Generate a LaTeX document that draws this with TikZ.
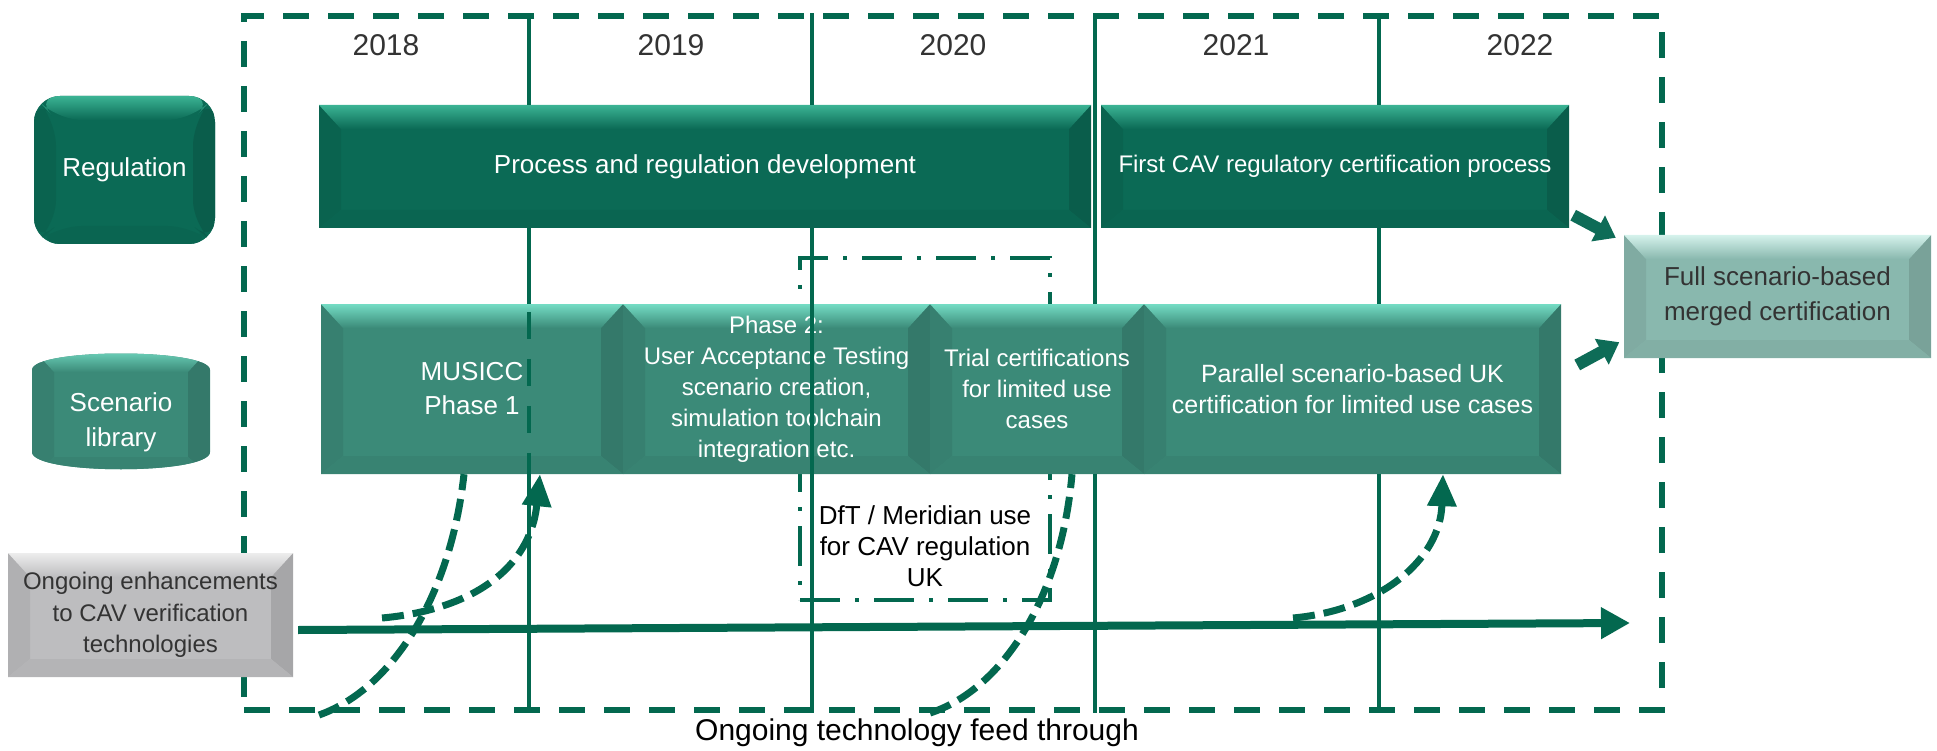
\documentclass[tikz,border=0pt]{standalone}
\usepackage{fontspec}
\setmainfont{Liberation Sans}
\usetikzlibrary{arrows.meta,calc}

\definecolor{linegreen}{HTML}{03684F}
\definecolor{darkteal}{HTML}{0B6A55}
\definecolor{darktealhi}{HTML}{3BB394}
\definecolor{midteal}{HTML}{3B8A78}
\definecolor{midtealhi}{HTML}{74DCC4}
\definecolor{paleteal}{HTML}{89B8AE}
\definecolor{paletealhi}{HTML}{D5F2EC}
\definecolor{greybox}{HTML}{BDBDBF}
\definecolor{greyboxhi}{HTML}{EDEDED}
\definecolor{inktext}{HTML}{333333}
\definecolor{arrowteal}{HTML}{0E6C57}

\tikzset{
  % bevelled fill: #1 body colour, #2 highlight on the upper edge
  bevelfill/.style 2 args={
    fill=#1,
    path picture={
      \coordinate (bvsw) at (path picture bounding box.south west);
      \coordinate (bvne) at (path picture bounding box.north east);
      \coordinate (bvnw) at (bvsw |- bvne);
      \coordinate (bvse) at (bvne |- bvsw);
      \coordinate (bvinw) at ($(bvnw)+(22pt,-24pt)$);
      \coordinate (bvine) at ($(bvne)+(-22pt,-24pt)$);
      \coordinate (bvisw) at ($(bvsw)+(22pt,18pt)$);
      \coordinate (bvise) at ($(bvse)+(-22pt,18pt)$);
      \fill[#1!93!black] (bvnw) -- (bvinw) -- (bvisw) -- (bvsw) -- cycle;
      \fill[#1!88!black] (bvne) -- (bvine) -- (bvise) -- (bvse) -- cycle;
      \fill[#1!95!black] (bvsw) -- (bvisw) -- (bvise) -- (bvse) -- cycle;
      \shade[top color=#2, bottom color=#1] (bvnw) -- (bvne) -- (bvine) -- (bvinw) -- cycle;
    }
  },
  box/.style={rectangle, inner sep=0pt, align=center},
  topbox/.style={box, bevelfill={darkteal}{darktealhi}, text=white, minimum height=123pt},
  lowbox/.style={box, bevelfill={midteal}{midtealhi}, text=white, minimum height=170pt},
  framebox/.style={rectangle, inner sep=0pt, draw=linegreen, line width=5.5pt,
    dash pattern=on 26pt off 19pt},
  dftbox/.style={rectangle, inner sep=0pt, draw=linegreen, line width=4.5pt,
    dash pattern=on 40pt off 15pt on 4pt off 15pt},
  yearline/.style={draw=linegreen, line width=4.5pt},
  yearlabel/.style={inner sep=0pt, text=inktext, font=\fontsize{30}{36}\selectfont},
  plainlabel/.style={inner sep=0pt, align=center, text=black},
  feedarrow/.style={draw=linegreen, line width=8pt, -{Triangle[length=29pt,width=30pt]}},
  feedcurve/.style={draw=linegreen, line width=7pt, dash pattern=on 22pt off 9pt},
  feedtip/.style={-{Triangle[length=32pt,width=28pt]}},
  blockarrow/.style={draw=arrowteal, line width=12pt, -{Triangle[length=20pt,width=28pt]}},
}

\begin{document}
\begin{tikzpicture}[x=1pt, y=-1pt]
\useasboundingbox (0,0) rectangle (1937,751);

% dashed timeline frame
\node[framebox, minimum width=1418pt, minimum height=694pt] (frame) at (953,363) {};

% x positions of the year separators
\coordinate (ysep1) at (529,0);
\coordinate (ysep2) at (812,0);
\coordinate (ysep3) at (1095,0);
\coordinate (ysep4) at (1379,0);

% dash-dot frame around the DfT activity
\node[dftbox, minimum width=250pt, minimum height=342pt] (dftframe) at (925,429) {};

% row headers
\node[box, bevelfill={darkteal}{darktealhi}, rounded corners=26pt,
      minimum width=181pt, minimum height=148pt, text=white,
      font=\fontsize{26}{32}\selectfont] (regulation) at (124.5,170) {Regulation};
\path[bevelfill={midteal}{midtealhi}]
  (32,370) .. controls (32,348) and (210,348) .. (210,370) -- (210,452)
  .. controls (210,475) and (32,475) .. (32,452) -- cycle;
\node[plainlabel, text=white, font=\fontsize{26}{35}\selectfont] (scenario) at (121,422) {Scenario\\library};

% regulation row
\node[topbox, minimum width=772pt, font=\fontsize{26}{32}\selectfont] (process) at (705,166.5)
  {Process and regulation development};
\node[topbox, minimum width=468pt, font=\fontsize{24}{30}\selectfont] (firstcav) at (1335,166.5)
  {First CAV regulatory certification process};

% scenario library row
\node[lowbox, minimum width=302pt, font=\fontsize{26}{34}\selectfont] (musicc) at (472,389)
  {MUSICC\\Phase 1};
\node[lowbox, minimum width=307pt, font=\fontsize{24}{31}\selectfont] (phase2) at (776.5,389)
  {Phase 2:\\User Acceptance Testing\\scenario creation,\\simulation toolchain\\integration etc.};
\node[lowbox, minimum width=214pt, font=\fontsize{24}{31}\selectfont] (trial) at (1037,389)
  {Trial certifications\\for limited use\\cases};
\node[lowbox, minimum width=417pt, font=\fontsize{25}{31}\selectfont] (parallel) at (1352.5,389)
  {Parallel scenario-based UK\\certification for limited use cases};

% outcome and technology boxes
\node[box, bevelfill={paleteal}{paletealhi}, minimum width=307pt, minimum height=123pt,
      text=inktext, font=\fontsize{26}{35}\selectfont] (full) at (1777.5,296.5)
  {Full scenario-based\\merged certification};
\node[box, bevelfill={greybox}{greyboxhi}, minimum width=285pt, minimum height=124pt,
      text=inktext, font=\fontsize{24}{31.5}\selectfont] (tech) at (150.5,615)
  {Ongoing enhancements\\to CAV verification\\technologies};

% year separators, visible between the boxes
\draw[yearline] (frame.north -| ysep1) -- (process.north -| ysep1)
                (process.south -| ysep1) -- (musicc.north -| ysep1)
                (musicc.south -| ysep1) -- (frame.south -| ysep1);
\draw[yearline, dash pattern=on 27pt off 20pt, dash phase=-8pt]
  (musicc.north -| ysep1) -- (musicc.south -| ysep1);
\draw[yearline] (frame.north -| ysep2) -- (process.north -| ysep2)
                (process.south -| ysep2) -- (frame.south -| ysep2);
\draw[yearline] (frame.north -| ysep3) -- (trial.north -| ysep3)
                (trial.south -| ysep3) -- (frame.south -| ysep3);
\draw[yearline] (frame.north -| ysep4) -- (firstcav.north -| ysep4)
                (firstcav.south -| ysep4) -- (parallel.north -| ysep4)
                (parallel.south -| ysep4) -- (frame.south -| ysep4);

% technology feed line
\coordinate (feedend) at (1630,623);
\draw[feedarrow] ([shift={(5pt,-15pt)}]tech.east) -- (feedend);

% feed-through curves
\coordinate (rise1) at (319,715);
\coordinate (rise2) at (382,618);
\coordinate (rise3) at (930,713);
\coordinate (rise4) at (1293,618);
\draw[feedcurve] (rise1) .. controls (390,690) and (450,600) .. ([xshift=-8pt]musicc.south);
\draw[feedcurve, feedtip] (rise2) .. controls (470,610) and (530,570) .. ([xshift=68pt]musicc.south);
\draw[feedcurve] (rise3) .. controls (1001,690) and (1061,600) .. ([xshift=35pt]trial.south);
\draw[feedcurve, feedtip] (rise4) .. controls (1380,610) and (1440,560) .. ([xshift=90.5pt]parallel.south);

% merge arrows
\draw[blockarrow] ([shift={(4pt,13pt)}]firstcav.south east) -- ([shift={(-8pt,-3pt)}]full.north west);
\draw[blockarrow] ([shift={(16pt,24pt)}]parallel.east) -- ([shift={(-4.5pt,16pt)}]full.south west);

% labels
\node[yearlabel] (y2018) at (386,45) {2018};
\node[yearlabel] (y2019) at (671,45) {2019};
\node[yearlabel] (y2020) at (953,45) {2020};
\node[yearlabel] (y2021) at (1236,45) {2021};
\node[yearlabel] (y2022) at (1520,45) {2022};
\node[plainlabel, font=\fontsize{26}{31}\selectfont] (dft) at (925,546)
  {DfT / Meridian use\\for CAV regulation\\UK};
\node[plainlabel, font=\fontsize{30}{36}\selectfont] (feedlabel) at (917,733)
  {Ongoing technology feed through};
\end{tikzpicture}
\end{document}
